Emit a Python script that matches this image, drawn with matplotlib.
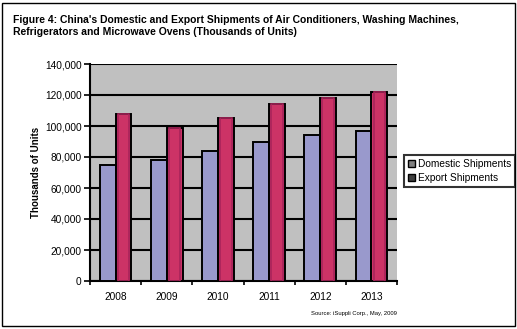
import matplotlib
matplotlib.use("Agg")
import matplotlib.pyplot as plt
from matplotlib.patches import Rectangle, Patch
from matplotlib.ticker import FuncFormatter, MultipleLocator
import numpy as np

years = ["2008", "2009", "2010", "2011", "2012", "2013"]
domestic = [75000, 78000, 84000, 90000, 94000, 97000]
export = [108000, 99000, 105000, 114000, 118000, 122000]
series_names = ["Domestic Shipments", "Export Shipments"]

title = ("Figure 4: China's Domestic and Export Shipments of Air Conditioners, Washing Machines,\n"
         "Refrigerators and Microwave Ovens (Thousands of Units)")
source = "Source: iSuppli Corp., May, 2009"

plt.rcParams['font.family'] = ['Liberation Sans', 'DejaVu Sans']

W, H = 517, 329
fig = plt.figure(figsize=(W / 100, H / 100), dpi=100)
fig.patch.set_facecolor("white")

# outer frame
fig.add_artist(Rectangle((1.5 / W, 1 - 326 / H), (515 - 1.5) / W, (326 - 3) / H,
                         transform=fig.transFigure, fill=False, edgecolor="black", lw=1.0))

ax = fig.add_axes([90 / W, 1 - 281 / H, (397 - 90) / W, (281 - 64) / H])
ax.set_facecolor("#C0C0C0")

x = np.arange(len(years))
bw = 0.31
dom_col = "#9999CC"
exp_col = "#CC3366"

ax.bar(x - bw / 2, domestic, width=bw, color=dom_col, edgecolor="black", linewidth=1.4, zorder=3)
ax.bar(x + bw / 2, export, width=bw, color=exp_col, edgecolor="black", linewidth=1.4, zorder=3)
# inner shading of export bars
ax.bar(x + bw / 2, export, width=bw * 0.72, color="none", edgecolor="#A8245A",
       linewidth=1.2, zorder=4)

ax.set_ylim(0, 140000)
ax.set_xlim(-0.5, len(years) - 0.5)
ax.yaxis.set_major_locator(MultipleLocator(20000))
ax.yaxis.set_major_formatter(FuncFormatter(lambda v, p: f"{int(v):,}"))
ax.grid(axis="y", color="black", linewidth=1.5, zorder=1)
ax.set_axisbelow(True)
ax.set_xticks(x)
ax.set_xticklabels(years)
ax.set_xticks(np.arange(len(years) + 1) - 0.5, minor=True)
ax.tick_params(axis="x", which="major", length=0, pad=8, labelsize=7.3)
ax.tick_params(axis="x", which="minor", length=3, width=1.2, direction="out")
ax.tick_params(axis="y", length=4, width=1.2, direction="out", labelsize=7.3, pad=2)

for s in ["top", "right"]:
    ax.spines[s].set_visible(False)
ax.spines["left"].set_linewidth(1.5)
ax.spines["bottom"].set_linewidth(1.5)

ax.set_ylabel("Thousands of Units", fontsize=7, fontweight="bold", labelpad=3)

handles = [Patch(facecolor="#808080", edgecolor="black", label=series_names[0]),
           Patch(facecolor="#404040", edgecolor="black", label=series_names[1])]
leg = fig.legend(handles=handles, loc="upper left",
                 bbox_to_anchor=(404 / W, 1 - 155 / H), fontsize=7.3,
                 frameon=True, fancybox=False, borderpad=0.4, handlelength=0.7,
                 handleheight=0.7, handletextpad=0.25, labelspacing=0.35,
                 borderaxespad=0)
leg.get_frame().set_edgecolor("black")
leg.get_frame().set_linewidth(1.5)

fig.text(13 / W, 1 - 15 / H, title, fontsize=7.5, fontweight="bold", va="top", ha="left",
         linespacing=1.25)
fig.text(397 / W, 1 - 313 / H, source, fontsize=4.2, ha="right", va="center")

fig.savefig("out.png", dpi=100, facecolor="white")
